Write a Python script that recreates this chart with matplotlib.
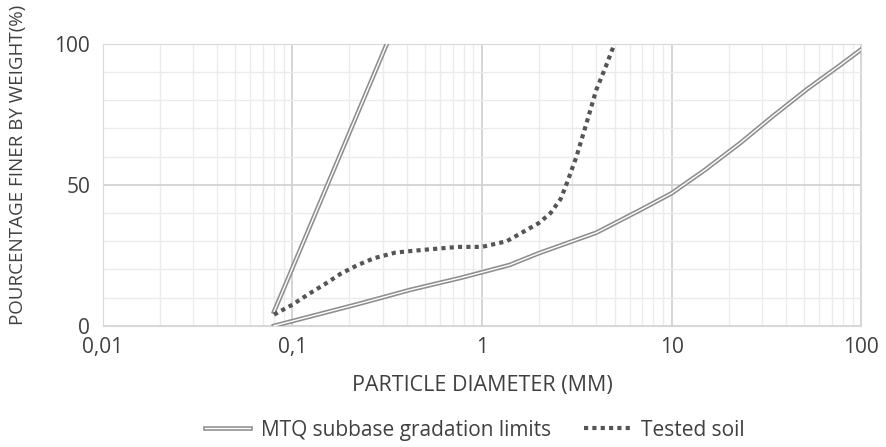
import matplotlib
matplotlib.use('Agg')
import matplotlib.pyplot as plt
import matplotlib.patheffects as pe
from matplotlib.ticker import FixedLocator, FixedFormatter, MultipleLocator

plt.rcParams['font.family'] = ['Open Sans', 'DejaVu Sans']

# MTQ gradation limits (lower and upper envelope)
upper_d = [0.08, 0.315]
upper_p = [5, 100]
lower_d = [0.08, 0.23, 0.42, 0.77, 1, 1.4, 2, 4, 6.8, 10, 15, 23, 34, 52, 77, 100]
lower_p = [0, 8, 12.8, 17, 19, 21.6, 25.8, 33, 41, 47, 55.3, 64.8, 74.2, 84, 92.3, 98]
# tested soil
soil_d = [0.08, 0.1, 0.12, 0.15, 0.18, 0.22, 0.27, 0.35, 0.5, 0.75, 1, 1.35,
          2, 2.3, 2.6, 2.8, 3.15, 3.6, 4, 4.5, 5]
soil_p = [4, 7.5, 11, 15, 18.5, 21.5, 24, 26, 27, 28, 28, 30,
          36.5, 40, 45, 50.5, 60, 73, 83.5, 92, 100]

xticks = [0.01, 0.1, 1, 10, 100]
xlabels = ['0,01', '0,1', '1', '10', '100']

txt = '#404040'

fig = plt.figure(figsize=(8.86, 4.47), dpi=100)
ax = fig.add_axes([0.116, 0.271, 0.856, 0.631])

dbl = [pe.Stroke(linewidth=3.3, foreground='#8e8e8e'), pe.Normal()]
ax.plot(lower_d, lower_p, color='white', lw=1.0, path_effects=dbl,
        label='MTQ subbase gradation limits', zorder=3)
ax.plot(upper_d, upper_p, color='white', lw=1.0, path_effects=dbl, zorder=3)
ax.plot(soil_d, soil_p, color='#555555', lw=3, linestyle=(0, (1, 1)),
        dash_capstyle='butt', label='Tested soil', zorder=4)

ax.set_xscale('log')
ax.set_xlim(0.01, 100)
ax.set_ylim(0, 100)
ax.xaxis.set_major_locator(FixedLocator(xticks))
ax.xaxis.set_major_formatter(FixedFormatter(xlabels))
ax.xaxis.set_minor_formatter(plt.NullFormatter())
ax.yaxis.set_major_locator(MultipleLocator(50))
ax.yaxis.set_minor_locator(MultipleLocator(10))
ax.grid(which='major', color='#d2d2d2', lw=1.3)
ax.grid(which='minor', color='#ebebeb', lw=1)
ax.tick_params(which='both', length=0, labelsize=15, colors=txt)
ax.tick_params(axis='x', pad=8)
ax.tick_params(axis='y', pad=9)
for s in ax.spines.values():
    s.set_color('#d9d9d9')
ax.set_axisbelow(True)

ax.set_xlabel('PARTICLE DIAMETER (MM)', fontsize=15.5, color=txt, labelpad=12)
ax.set_ylabel('POURCENTAGE FINER BY WEIGHT(%)', fontsize=13.5, color=txt)
ax.yaxis.set_label_coords(-0.1, 0.57)

leg = ax.legend(loc='center', bbox_to_anchor=(0.49, -0.37), ncol=2, frameon=False,
                fontsize=15, handlelength=2.2, columnspacing=1.6, handletextpad=0.5)
for t in leg.get_texts():
    t.set_color(txt)

plt.savefig('out.png')
